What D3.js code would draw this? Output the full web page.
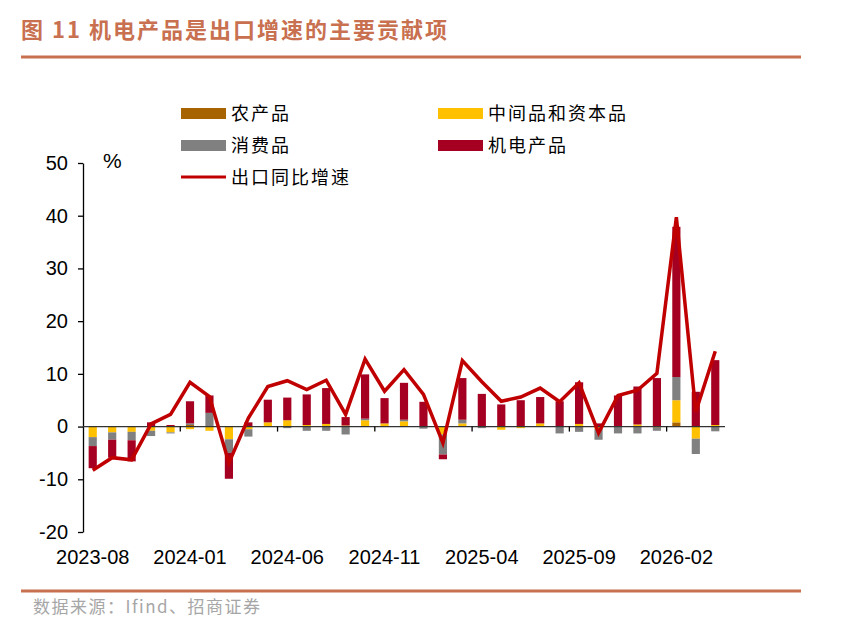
<!DOCTYPE html>
<html>
<head>
<meta charset="utf-8">
<script src="https://cdn.jsdelivr.net/npm/d3@7"></script>
<style>
  body { margin: 0; background: #fff; }
  text { font-family: "Liberation Sans", Arial, sans-serif; }
  .cjk { font-family: "Noto Sans CJK SC", sans-serif; }
</style>
</head>
<body>
<div id="chart-area"></div>
<script>
var months = ["2023-08","2023-09","2023-10","2023-11","2023-12","2024-01","2024-02","2024-03","2024-04","2024-05",
  "2024-06","2024-07","2024-08","2024-09","2024-10","2024-11","2024-12","2025-01","2025-02","2025-03",
  "2025-04","2025-05","2025-06","2025-07","2025-08","2025-09","2025-10","2025-11","2025-12","2026-01",
  "2026-02","2026-03","2026-04"];

// 农产品
var agri = [0, 0, 0, 0, 0, 0.3, 0, 0, 0, 0,
  0, 0.1, 0, 0, 0, 0, 0, 0, 0, 0,
  0, 0, 0, 0, 0, 0, 0, 0, 0, -0.2,
  0.8, 0, 0];
// 中间品和资本品
var inter = [-2.0, -1.1, -1.0, -0.8, -1.1, -0.5, -0.8, -2.4, -0.5, 0.8,
  1.2, 0.2, 0.5, 0.2, 1.2, 0.6, 1.0, 0.1, -1.5, 0.6,
  0.1, -0.6, -0.3, 0.6, 0, 0.5, -0.5, 0, 0.4, 0,
  4.2, -2.3, 0.3];
// 消费品
var consumer = [-1.7, -1.4, -1.6, -1.0, -0.2, 0.3, 2.6, -2.6, -1.4, 0,
  -0.3, -0.8, -0.8, -1.5, 0.3, 0, 0.3, -0.4, -3.8, 0.7,
  -0.3, 0, 0, 0, -1.3, -1.0, -2.0, -1.3, -1.3, -0.6,
  4.4, -2.9, -0.9];
// 机电产品
var mech = [-4.2, -3.4, -4.0, 0.8, 0.3, 4.2, 3.3, -4.9, 0.8, 4.3,
  4.3, 5.8, 6.8, 1.6, 8.4, 4.8, 7.0, 4.6, -0.9, 7.9,
  6.1, 4.2, 5.0, 5.0, 4.8, 7.9, 0.6, 5.9, 7.2, 9.2,
  28.5, 6.6, 12.3];
// 出口同比增速
var exportYoY = [-8.3, -5.9, -6.3, 0.5, 2.3, 8.4, 5.7, -6.9, 1.6, 7.6,
  8.7, 7.0, 8.8, 2.3, 12.8, 6.7, 10.8, 6.1, -3.1, 12.5,
  8.5, 4.8, 5.6, 7.3, 4.7, 8.3, -1.2, 5.9, 6.9, 10.1,
  39.7, 2.8, 14.3];

var yTicks = [-20, -10, 0, 10, 20, 30, 40, 50];
var xLabels = ["2023-08", "2024-01", "2024-06", "2024-11", "2025-04", "2025-09", "2026-02"];

var seriesKeys = ["agri", "inter", "consumer", "mech"];
var seriesNames = {agri: "农产品", inter: "中间品和资本品", consumer: "消费品", mech: "机电产品"};
var colors = {agri: "#A66300", inter: "#FFC000", consumer: "#808080", mech: "#A50021"};
var lineColor = "#C00000";

var width = 841;
var height = 640;
var plot = {left: 83, right: 725, top: 163, bottom: 532};

var svg = d3.select("#chart-area")
  .append("svg")
  .attr("width", width)
  .attr("height", height);

// title + rules
svg.append("text")
  .attr("class", "cjk")
  .attr("x", 21)
  .attr("y", 38)
  .attr("fill", "#C8704F")
  .attr("font-size", 22)
  .attr("font-weight", "bold")
  .attr("letter-spacing", 2)
  .text("图 11 机电产品是出口增速的主要贡献项");

svg.append("rect").attr("x", 21).attr("y", 55.5).attr("width", 780).attr("height", 3).attr("fill", "#C8704F");
svg.append("rect").attr("x", 21).attr("y", 589.5).attr("width", 780).attr("height", 3).attr("fill", "#C8704F");

svg.append("text")
  .attr("class", "cjk")
  .attr("x", 33)
  .attr("y", 613)
  .attr("fill", "#A6A6A6")
  .attr("font-size", 17)
  .attr("letter-spacing", 1.5)
  .text("数据来源：Ifind、招商证券");

var table = months.map(function(m, i){
  return {month: m, agri: agri[i], inter: inter[i], consumer: consumer[i], mech: mech[i], yoy: exportYoY[i]};
});

var x = d3.scaleBand()
  .domain(months)
  .range([plot.left, plot.right])
  .paddingInner(0.58)
  .paddingOuter(0.29);

var y = d3.scaleLinear()
  .domain([-20, 50])
  .range([plot.bottom, plot.top]);

var stacked = d3.stack()
  .keys(seriesKeys)
  .offset(d3.stackOffsetDiverging)(table);

var g = svg.append("g");

g.selectAll(".series")
  .data(stacked)
  .enter()
  .append("g")
  .attr("class", "series")
  .attr("fill", function(d){ return colors[d.key]; })
  .selectAll("rect")
  .data(function(d){ return d; })
  .enter()
  .append("rect")
  .attr("x", function(d){ return x(d.data.month); })
  .attr("width", x.bandwidth())
  .attr("y", function(d){ return y(Math.max(d[0], d[1])); })
  .attr("height", function(d){ return Math.abs(y(d[0]) - y(d[1])); });

// y axis
var yAxisCall = d3.axisLeft(y)
  .tickValues(yTicks)
  .tickSize(5)
  .tickSizeOuter(0)
  .tickPadding(10)
  .tickFormat(function(d){ return String(d); });

var yAxisGroup = svg.append("g")
  .attr("transform", "translate(" + plot.left + ", 0)")
  .call(yAxisCall);
yAxisGroup.select(".domain").attr("stroke", "#000").attr("stroke-width", 1.3);
yAxisGroup.selectAll(".tick line").attr("stroke", "#000").attr("stroke-width", 1.3);
yAxisGroup.selectAll(".tick text")
  .attr("font-size", 20)
  .attr("font-family", "Liberation Sans, Arial, sans-serif")
  .attr("fill", "#000");

svg.append("text")
  .attr("x", 103)
  .attr("y", 168)
  .attr("font-size", 21)
  .text("%");

// zero baseline with category ticks every 5 months
var zeroY = y(0);
svg.append("line")
  .attr("x1", plot.left).attr("x2", plot.right)
  .attr("y1", zeroY).attr("y2", zeroY)
  .attr("stroke", "#333")
  .attr("stroke-width", 1.3);

var gap = (x.step() - x.bandwidth()) / 2;
svg.selectAll(".xtick")
  .data(months.filter(function(m, i){ return i > 0 && i % 5 === 0; }))
  .enter()
  .append("line")
  .attr("class", "xtick")
  .attr("x1", function(d){ return x(d) - gap; })
  .attr("x2", function(d){ return x(d) - gap; })
  .attr("y1", zeroY)
  .attr("y2", zeroY + 5)
  .attr("stroke", "#000")
  .attr("stroke-width", 1.3);

svg.selectAll(".xlabel")
  .data(xLabels)
  .enter()
  .append("text")
  .attr("class", "xlabel")
  .attr("x", function(d){ return x(d) + x.bandwidth() / 2; })
  .attr("y", 564)
  .attr("text-anchor", "middle")
  .attr("font-size", 20)
  .text(function(d){ return d; });

// export growth line
var line = d3.line()
  .x(function(d){ return x(d.month) + x.bandwidth() / 2; })
  .y(function(d){ return y(d.yoy); });

svg.append("path")
  .datum(table)
  .attr("fill", "none")
  .attr("stroke", lineColor)
  .attr("stroke-width", 3.5)
  .attr("stroke-linejoin", "miter")
  .attr("d", line);

// legend
var legendItems = [
  {key: "agri", lx: 181, ly: 108},
  {key: "inter", lx: 438, ly: 108},
  {key: "consumer", lx: 181, ly: 140},
  {key: "mech", lx: 438, ly: 140}
];

var legend = svg.append("g");
legend.selectAll("rect")
  .data(legendItems)
  .enter()
  .append("rect")
  .attr("x", function(d){ return d.lx; })
  .attr("y", function(d){ return d.ly; })
  .attr("width", 45)
  .attr("height", 11)
  .attr("fill", function(d){ return colors[d.key]; });

legend.selectAll("text")
  .data(legendItems)
  .enter()
  .append("text")
  .attr("class", "cjk")
  .attr("x", function(d){ return d.lx + 50; })
  .attr("y", function(d){ return d.ly + 12; })
  .attr("font-size", 18)
  .attr("letter-spacing", 2)
  .text(function(d){ return seriesNames[d.key]; });

legend.append("line")
  .attr("x1", 181).attr("x2", 226)
  .attr("y1", 177).attr("y2", 177)
  .attr("stroke", lineColor)
  .attr("stroke-width", 3);

legend.append("text")
  .attr("class", "cjk")
  .attr("x", 231)
  .attr("y", 184)
  .attr("font-size", 18)
  .attr("letter-spacing", 2)
  .text("出口同比增速");
</script>
</body>
</html>
